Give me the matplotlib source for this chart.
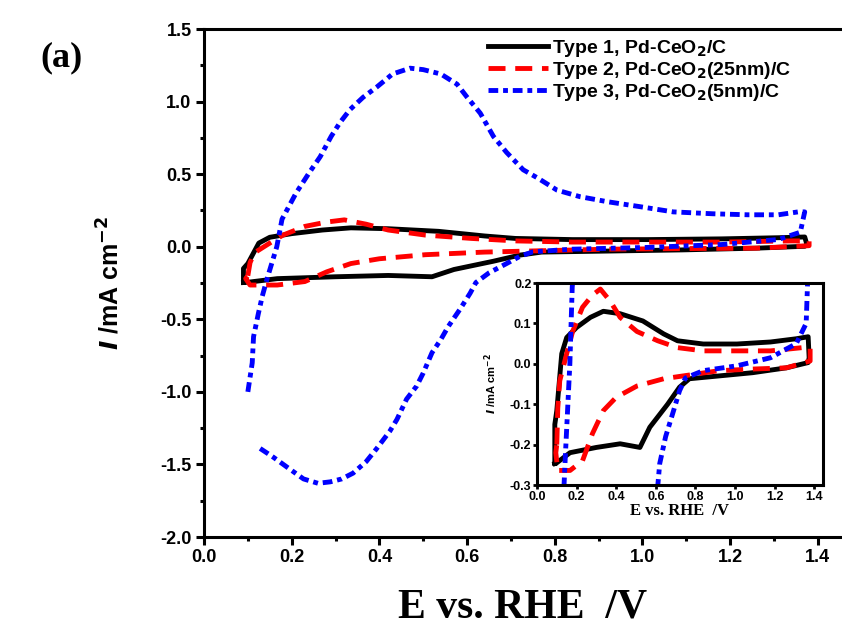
import numpy as np
import matplotlib
matplotlib.use('Agg')
import matplotlib.pyplot as plt
from matplotlib.ticker import MultipleLocator, FormatStrFormatter

# CV data (E in V vs RHE, I in mA cm^-2)
# Type 1, Pd-CeO2/C : anodic sweep then cathodic sweep
e_type1 = [0.09, 0.09, 0.10, 0.125, 0.15, 0.20, 0.27, 0.335, 0.42, 0.535, 0.64, 0.71, 0.84, 1.01, 1.18,
           1.31, 1.37, 1.375, 1.37, 1.26, 1.09, 0.92, 0.77, 0.72, 0.66, 0.57, 0.52, 0.42, 0.30, 0.167, 0.10, 0.09]
i_type1 = [-0.247, -0.15, -0.116, 0.025, 0.065, 0.09, 0.115, 0.13, 0.124, 0.106, 0.074, 0.057, 0.049, 0.049, 0.054,
           0.062, 0.067, 0.015, 0.003, -0.01, -0.022, -0.03, -0.037, -0.058, -0.10, -0.157, -0.207, -0.198, -0.207, -0.22, -0.245, -0.247]

# Type 2, Pd-CeO2(25nm)/C
e_type2 = [0.10, 0.105, 0.115, 0.15, 0.18, 0.23, 0.28, 0.32, 0.37, 0.42, 0.505, 0.61, 0.71, 0.84, 1.01, 1.18,
           1.34, 1.38, 1.38, 1.26, 1.09, 0.92, 0.64, 0.505, 0.40, 0.335, 0.28, 0.23, 0.167, 0.105, 0.095, 0.10]
i_type2 = [-0.20, -0.11, -0.042, 0.025, 0.08, 0.14, 0.17, 0.185, 0.155, 0.115, 0.08, 0.057, 0.04, 0.032, 0.032, 0.032,
           0.04, 0.04, 0.007, -0.01, -0.013, -0.017, -0.037, -0.055, -0.083, -0.116, -0.173, -0.24, -0.264, -0.264, -0.22, -0.20]

# Type 3, Pd-CeO2(5nm)/C (loop not closed at low potential)
e_type3 = [0.10, 0.11, 0.113, 0.124, 0.133, 0.143, 0.166, 0.178, 0.21, 0.24, 0.265, 0.29, 0.31, 0.333, 0.363,
           0.394, 0.43, 0.47, 0.50, 0.54, 0.577, 0.60, 0.63, 0.66, 0.69, 0.728, 0.76, 0.805, 0.857, 0.92, 0.994,
           1.07, 1.16, 1.24, 1.31, 1.355, 1.37, 1.366, 1.36, 1.31, 1.18, 1.01, 0.84, 0.75, 0.72, 0.69, 0.65,
           0.62, 0.607, 0.584, 0.557, 0.54, 0.52, 0.50, 0.485, 0.462, 0.44, 0.424, 0.394, 0.37, 0.34, 0.314,
           0.288, 0.26, 0.227, 0.19, 0.158, 0.128]
i_type3 = [-1.0, -0.8, -0.62, -0.46, -0.34, -0.23, 0.0, 0.19, 0.37, 0.51, 0.62, 0.76, 0.855, 0.945, 1.03,
           1.10, 1.19, 1.23, 1.22, 1.19, 1.12, 1.03, 0.92, 0.76, 0.65, 0.53, 0.475, 0.39, 0.345, 0.31, 0.276,
           0.24, 0.227, 0.22, 0.22, 0.24, 0.24, 0.186, 0.10, 0.05, 0.015, -0.005, -0.017, -0.035, -0.067, -0.116, -0.18,
           -0.247, -0.32, -0.43, -0.55, -0.64, -0.73, -0.87, -0.96, -1.05, -1.19, -1.27, -1.39, -1.48, -1.56, -1.60,
           -1.62, -1.63, -1.60, -1.52, -1.45, -1.39]

labels = ['Type 1, Pd-CeO$_\\mathbf{2}$/C',
          'Type 2, Pd-CeO$_\\mathbf{2}$(25nm)/C',
          'Type 3, Pd-CeO$_\\mathbf{2}$(5nm)/C']

plt.rcParams['axes.unicode_minus'] = False
plt.rcParams['font.family'] = 'Liberation Sans'
plt.rcParams['font.weight'] = 'bold'
plt.rcParams['mathtext.default'] = 'bf'

lw = 3.5
styles = [dict(color='black', ls='-', lw=lw),
          dict(color='red', ls=(0, (3.5, 2)), lw=lw),
          dict(color='blue', ls=(0, (2, 1, 1, 1)), lw=lw)]
curves = [(e_type1, i_type1), (e_type2, i_type2), (e_type3, i_type3)]

fig = plt.figure(figsize=(8.42, 6.32), dpi=100)
ax = fig.add_axes([204/842, 95/632, 638/842, 508/632])

for (e, i), st, lab in zip(curves, styles, labels):
    ax.plot(e, i, label=lab, solid_joinstyle='round', dash_joinstyle='round', **st)

ax.set_xlim(0, 1.455)
ax.set_ylim(-2.0, 1.5)
ax.xaxis.set_major_locator(MultipleLocator(0.2))
ax.xaxis.set_minor_locator(MultipleLocator(0.1))
ax.yaxis.set_major_locator(MultipleLocator(0.5))
ax.yaxis.set_minor_locator(MultipleLocator(0.25))
ax.xaxis.set_major_formatter(FormatStrFormatter('%.1f'))
ax.yaxis.set_major_formatter(FormatStrFormatter('%.1f'))
ax.tick_params(which='major', direction='out', length=6, width=2.2, labelsize=13, pad=3)
ax.tick_params(which='minor', direction='out', length=3, width=2.2)
for s in ['left', 'bottom', 'top']:
    ax.spines[s].set_linewidth(2.2)
ax.spines['right'].set_visible(False)

ax.set_xlabel('E vs. RHE  /V', family='Liberation Serif', fontsize=30, fontweight='bold', labelpad=16)
ax.set_ylabel('$\\mathbfit{I}$ /mA cm$^{\\mathbf{-2}}$', fontsize=18, fontweight='bold', labelpad=26)

leg = ax.legend(loc='upper left', bbox_to_anchor=(488/842, 1 - 38/632), bbox_transform=fig.transFigure,
                frameon=False, fontsize=14, handlelength=3.1, handletextpad=0.2, labelspacing=0.05,
                borderpad=0, borderaxespad=0)

fig.text(40/842, 1 - 66/632, '(a)', family='Liberation Serif', fontsize=26, fontweight='bold')

# inset zoom of the double-layer region
ins = fig.add_axes([537/842, 147/632, 286/842, 202/632])
for (e, i), st in zip(curves, styles):
    ins.plot(e, i, solid_joinstyle='round', dash_joinstyle='round', **st)
ins.set_xlim(0, 1.445)
ins.set_ylim(-0.3, 0.2)
ins.xaxis.set_major_locator(MultipleLocator(0.2))
ins.yaxis.set_major_locator(MultipleLocator(0.1))
ins.xaxis.set_major_formatter(FormatStrFormatter('%.1f'))
ins.yaxis.set_major_formatter(FormatStrFormatter('%.1f'))
ins.tick_params(direction='out', length=3, width=2, labelsize=9, pad=1)
for s in ins.spines.values():
    s.set_linewidth(2.2)
ins.set_xlabel('E vs. RHE  /V', family='Liberation Serif', fontsize=12, fontweight='bold', labelpad=0)
ins.set_ylabel('$\\mathbfit{I}$ /mA cm$^{\\mathbf{-2}}$', fontsize=8, fontweight='bold', labelpad=8)

fig.savefig('out.png', dpi=100)
